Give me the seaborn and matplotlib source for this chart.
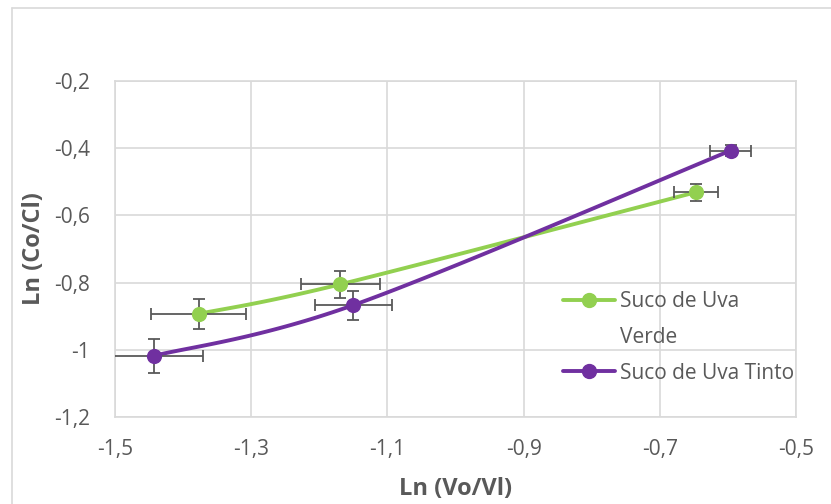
import matplotlib
matplotlib.use("Agg")
import matplotlib.pyplot as plt
from matplotlib.lines import Line2D
import numpy as np
import pandas as pd
import seaborn as sns

# data
verde_x = [-1.377, -1.169, -0.647]
verde_y = [-0.893, -0.805, -0.531]
verde_xerr = [0.070, 0.058, 0.032]
verde_yerr = [0.044, 0.040, 0.025]

tinto_x = [-1.443, -1.150, -0.596]
tinto_y = [-1.018, -0.867, -0.407]
tinto_xerr = [0.072, 0.057, 0.030]
tinto_yerr = [0.050, 0.043, 0.016]

series_names = ["Suco de Uva Verde", "Suco de Uva Tinto"]
x_ticks = [-1.5, -1.3, -1.1, -0.9, -0.7, -0.5]
y_ticks = [-1.2, -1.0, -0.8, -0.6, -0.4, -0.2]

GREEN = "#92D050"
PURPLE = "#7030A0"
GREY = "#595959"


def smooth(xs, ys, n=40):
    # excel-like smoothed line (catmull-rom style bezier)
    p = np.column_stack([xs, ys])
    p = np.vstack([p[0], p, p[-1]])
    out = []
    for i in range(1, len(p) - 2):
        p0, p1, p2, p3 = p[i - 1], p[i], p[i + 1], p[i + 2]
        c1 = p1 + (p2 - p0) / 6
        c2 = p2 - (p3 - p1) / 6
        t = np.linspace(0, 1, n)[:, None]
        seg = ((1 - t) ** 3) * p1 + 3 * ((1 - t) ** 2) * t * c1 + 3 * (1 - t) * t ** 2 * c2 + t ** 3 * p2
        out.append(seg)
    return np.vstack(out)


sns.set_style("white")
plt.rcParams["font.family"] = ["Open Sans", "DejaVu Sans"]

fig = plt.figure(figsize=(8.31, 5.04), dpi=100)
ax = fig.add_axes([115 / 831, 1 - 417 / 504, (796 - 115) / 831, (417 - 81) / 504])

for xs, ys, xe, ye, col in [
    (verde_x, verde_y, verde_xerr, verde_yerr, GREEN),
    (tinto_x, tinto_y, tinto_xerr, tinto_yerr, PURPLE),
]:
    curve = smooth(xs, ys)
    df = pd.DataFrame({"x": curve[:, 0], "y": curve[:, 1]})
    sns.lineplot(data=df, x="x", y="y", sort=False, color=col, linewidth=2.8, ax=ax, zorder=3)
    ax.errorbar(xs, ys, xerr=xe, yerr=ye, fmt="none", ecolor=GREY, elinewidth=1.3,
                capsize=4, capthick=1.3, zorder=4)
    pts = pd.DataFrame({"x": xs, "y": ys})
    sns.scatterplot(data=pts, x="x", y="y", color=col, s=120, edgecolor=col, linewidth=0, ax=ax, zorder=5)

ax.set_xlim(-1.5, -0.5)
ax.set_ylim(-1.2, -0.2)
ax.set_xticks(x_ticks)
ax.set_yticks(y_ticks)
fmt = lambda v: f"{v:g}".replace(".", ",")
ax.set_xticklabels([fmt(v) for v in x_ticks])
ax.set_yticklabels([fmt(v) for v in y_ticks])
ax.tick_params(length=0, labelsize=15, labelcolor=GREY)
ax.tick_params(axis="x", pad=16)
ax.tick_params(axis="y", pad=18)
ax.grid(True, color="#D9D9D9", linewidth=1.2)
for s in ax.spines.values():
    s.set_color("#D9D9D9")
    s.set_linewidth(1.2)
ax.set_axisbelow(True)

ax.set_xlabel("Ln (Vo/Vl)", fontsize=17, fontweight="bold", color=GREY, labelpad=12)
ax.set_ylabel("Ln (Co/Cl)", fontsize=17, fontweight="bold", color=GREY, labelpad=6)

# legend: the long green label wraps onto a second line like in excel
first_line, second_line = series_names[0].rsplit(" ", 1)
handles = [
    Line2D([0], [0], color=GREEN, lw=2.8, marker="o", markersize=10),
    Line2D([0], [0], color="none"),
    Line2D([0], [0], color=PURPLE, lw=2.8, marker="o", markersize=10),
]
leg = ax.legend(handles, [first_line, second_line, series_names[1]], loc="upper left",
                bbox_to_anchor=(0.658, 0.374), frameon=False, fontsize=15,
                handlelength=2.5, handletextpad=0.22, labelspacing=0.7,
                borderpad=0, borderaxespad=0)
for t in leg.get_texts():
    t.set_color(GREY)

# outer chart border (cropped screenshot)
fig.add_artist(Line2D([12 / 831, 12 / 831], [0, 1 - 8 / 504], color="#D9D9D9", lw=1.2))
fig.add_artist(Line2D([12 / 831, 1], [1 - 8 / 504, 1 - 8 / 504], color="#D9D9D9", lw=1.2))

fig.savefig("out.png", dpi=100)
